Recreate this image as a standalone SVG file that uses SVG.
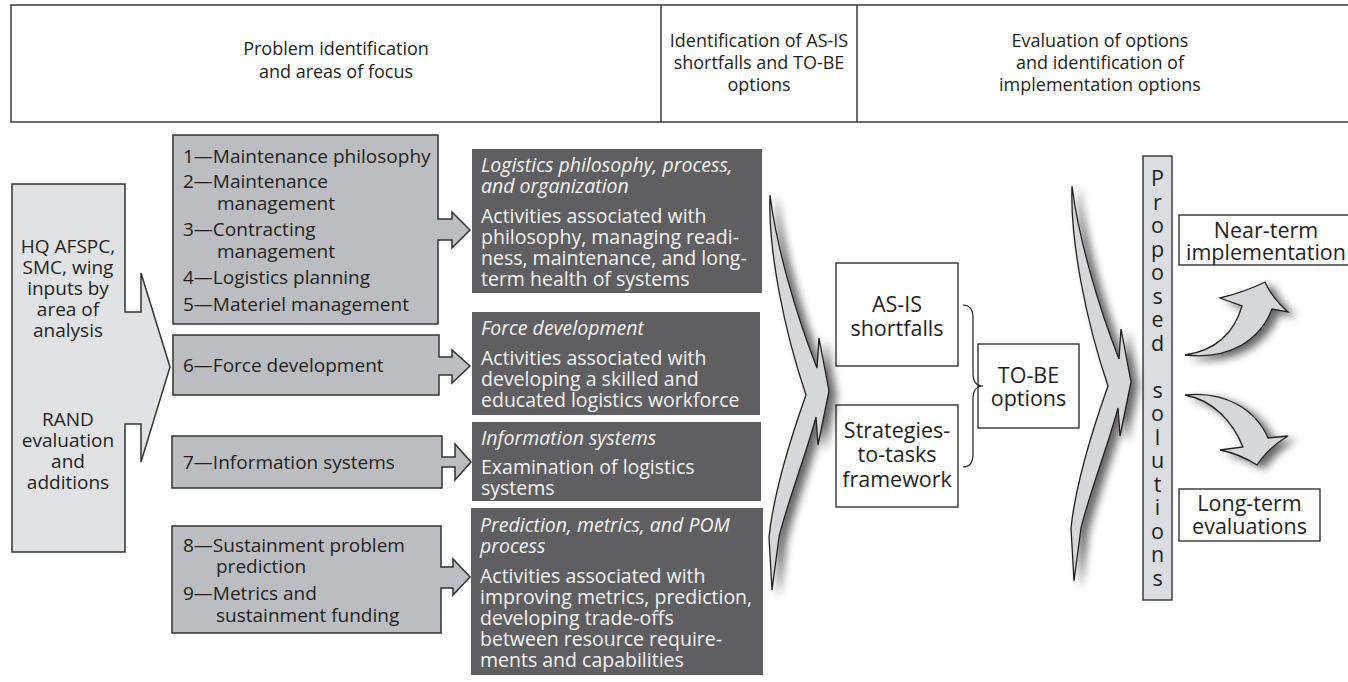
<svg xmlns="http://www.w3.org/2000/svg" width="1348" height="682" viewBox="0 0 1348 682">
<defs>
<filter id="shadow" x="-60%" y="-20%" width="220%" height="140%">
<feGaussianBlur in="SourceAlpha" stdDeviation="4.5"/>
<feOffset dx="7" dy="4"/>
<feComponentTransfer><feFuncA type="linear" slope="0.6"/></feComponentTransfer>
<feMerge><feMergeNode/><feMergeNode in="SourceGraphic"/></feMerge>
</filter>
<path id="chev" d="M770,195 C776,245 796,315 817,368 L819,338 L829,391 L818,445 L816,417 C806,455 788,500 779,537 L772,590 L769,537 C774,490 790,440 806,395 C784,330 768,250 770,195 Z"/>
</defs>
<style>
text{font-family:"Open Sans","Noto Sans","Liberation Sans",sans-serif;fill:#231f20}
.hdr{font-size:18px;text-anchor:middle}
.lt{font-size:19px}
.ltc{font-size:19px;text-anchor:middle}
.dk text{fill:#f5f5f5;font-size:19.5px}
.it{font-style:italic}
.md{font-size:21.5px;text-anchor:middle}
.frame{fill:none;stroke:#3a3a3a;stroke-width:1.5}
.gbox{fill:#bcbdc0;stroke:#333;stroke-width:1.5}
.lbox{fill:#e1e2e4;stroke:#333;stroke-width:1.5}
.dbox{fill:#5f5f61}
.wbox{fill:#fff;stroke:#333;stroke-width:1.4}
.swoosh{fill:#d6d7d9;stroke:#231f20;stroke-width:1.3;filter:url(#shadow)}
.brace{fill:none;stroke:#231f20;stroke-width:1.2}
</style>
<rect width="1348" height="682" fill="#fff"/>

<g id="header">
<path class="frame" d="M1352,5 H11 V122 H1352 M661,5 V122 M857,5 V122"/>
<text class="hdr" x="336" y="55">Problem identification</text>
<text class="hdr" x="336" y="78">and areas of focus</text>
<text class="hdr" x="759" y="47">Identification of AS-IS</text>
<text class="hdr" x="759" y="69">shortfalls and TO-BE</text>
<text class="hdr" x="759" y="91">options</text>
<text class="hdr" x="1100" y="47">Evaluation of options</text>
<text class="hdr" x="1100" y="69">and identification of</text>
<text class="hdr" x="1100" y="91">implementation options</text>
</g>

<g id="inputs">
<polygon class="lbox" points="12,184 125,184 125,312 141,312 141,273 170,367 141,462 141,424 125,424 125,552 12,552"/>
<text class="ltc" x="68" y="253">HQ AFSPC,</text>
<text class="ltc" x="68" y="274">SMC, wing</text>
<text class="ltc" x="68" y="295">inputs by</text>
<text class="ltc" x="68" y="316">area of</text>
<text class="ltc" x="68" y="337">analysis</text>
<text class="ltc" x="68" y="426">RAND</text>
<text class="ltc" x="68" y="447">evaluation</text>
<text class="ltc" x="68" y="468">and</text>
<text class="ltc" x="68" y="489">additions</text>
</g>

<g id="area1-5">
<polygon class="gbox" points="173,135 438,135 438,219 452,219 452,212 470,230 452,248 452,240 438,240 438,324 173,324"/>
<text class="lt" x="183" y="163">1—Maintenance philosophy</text>
<text class="lt" x="183" y="188">2—Maintenance</text>
<text class="lt" x="217" y="210">management</text>
<text class="lt" x="183" y="236">3—Contracting</text>
<text class="lt" x="217" y="258">management</text>
<text class="lt" x="183" y="284">4—Logistics planning</text>
<text class="lt" x="183" y="311">5—Materiel management</text>
</g>

<g id="area6">
<polygon class="gbox" points="173,335 439,335 439,357 452,357 452,350 470,366 452,383 452,375 439,375 439,395 173,395"/>
<text class="lt" x="183" y="372">6—Force development</text>
</g>

<g id="area7">
<polygon class="gbox" points="172,436 442,436 442,457 455,457 455,444 471,462 455,480 455,467 442,467 442,488 172,488"/>
<text class="lt" x="183" y="469">7—Information systems</text>
</g>

<g id="area8-9">
<polygon class="gbox" points="172,526 441,526 441,567 453,567 453,559 470,577 453,595 453,588 441,588 441,633 172,633"/>
<text class="lt" x="183" y="552">8—Sustainment problem</text>
<text class="lt" x="216" y="573">prediction</text>
<text class="lt" x="183" y="600">9—Metrics and</text>
<text class="lt" x="216" y="622">sustainment funding</text>
</g>

<g id="logistics" class="dk">
<rect class="dbox" x="472" y="149" width="290" height="144"/>
<text class="it" x="481" y="172">Logistics philosophy, process,</text>
<text class="it" x="481" y="193">and organization</text>
<text x="481" y="223">Activities associated with</text>
<text x="481" y="244">philosophy, managing readi-</text>
<text x="481" y="265">ness, maintenance, and long-</text>
<text x="481" y="286">term health of systems</text>
</g>

<g id="force" class="dk">
<rect class="dbox" x="472" y="312" width="288" height="103"/>
<text class="it" x="481" y="335">Force development</text>
<text x="481" y="365">Activities associated with</text>
<text x="481" y="386">developing a skilled and</text>
<text x="481" y="407">educated logistics workforce</text>
</g>

<g id="infosys" class="dk">
<rect class="dbox" x="472" y="422" width="289" height="79"/>
<text class="it" x="481" y="445">Information systems</text>
<text x="481" y="474">Examination of logistics</text>
<text x="481" y="495">systems</text>
</g>

<g id="prediction" class="dk">
<rect class="dbox" x="471" y="508" width="292" height="167"/>
<text class="it" x="480" y="532">Prediction, metrics, and POM</text>
<text class="it" x="480" y="553">process</text>
<text x="480" y="583">Activities associated with</text>
<text x="480" y="604">improving metrics, prediction,</text>
<text x="480" y="625">developing trade-offs</text>
<text x="480" y="646">between resource require-</text>
<text x="480" y="667">ments and capabilities</text>
</g>

<g id="asis">
<rect class="wbox" x="836" y="263" width="122" height="103"/>
<text class="md" x="897" y="312">AS-IS</text>
<text class="md" x="897" y="336">shortfalls</text>
</g>

<g id="strategies">
<rect class="wbox" x="836" y="405" width="122" height="102"/>
<text class="md" x="897" y="438">Strategies-</text>
<text class="md" x="897" y="462">to-tasks</text>
<text class="md" x="897" y="487">framework</text>
</g>

<g id="tobe">
<rect class="wbox" x="978" y="344" width="101" height="84"/>
<text class="md" x="1028.5" y="383">TO-BE</text>
<text class="md" x="1028.5" y="406">options</text>
</g>

<g id="proposed">
<rect x="1143" y="156" width="29" height="444" fill="#dcdde0" stroke="#333" stroke-width="1.4"/>
<text class="md" x="1157.5" y="186">P</text>
<text class="md" x="1157.5" y="209.5">r</text>
<text class="md" x="1157.5" y="233">o</text>
<text class="md" x="1157.5" y="256.5">p</text>
<text class="md" x="1157.5" y="280">o</text>
<text class="md" x="1157.5" y="303.5">s</text>
<text class="md" x="1157.5" y="327">e</text>
<text class="md" x="1157.5" y="350.5">d</text>
<text class="md" x="1157.5" y="397.5">s</text>
<text class="md" x="1157.5" y="421">o</text>
<text class="md" x="1157.5" y="444.5">l</text>
<text class="md" x="1157.5" y="468">u</text>
<text class="md" x="1157.5" y="491.5">t</text>
<text class="md" x="1157.5" y="515">i</text>
<text class="md" x="1157.5" y="538.5">o</text>
<text class="md" x="1157.5" y="562">n</text>
<text class="md" x="1157.5" y="585.5">s</text>
</g>

<g id="nearterm">
<rect class="wbox" x="1179" y="215" width="175" height="50"/>
<text class="md" x="1266" y="238">Near-term</text>
<text class="md" x="1266" y="260">implementation</text>
</g>

<g id="longterm">
<rect class="wbox" x="1179" y="489" width="141" height="52"/>
<text class="md" x="1249.5" y="511">Long-term</text>
<text class="md" x="1249.5" y="534">evaluations</text>
</g>

<g id="connectors">
<use href="#chev" class="swoosh"/>
<use href="#chev" class="swoosh" transform="translate(302,-9)"/>
<path class="brace" d="M963,305 Q973,305 973,318 L973,373 Q973,386 983,386 Q973,386 973,399 L973,454 Q973,467 963,467"/>
<path class="swoosh" d="M1185,355 C1212,351 1233,337 1242,306 L1220,298 Q1245,292 1265,282 Q1272,298 1288,312 L1272,309 C1260,340 1230,360 1185,355 Z"/>
<path class="swoosh" d="M1185,395 C1226,391 1256,410 1268,438 L1288,436 Q1268,448 1257,465 Q1240,454 1220,450 L1243,447 C1232,420 1212,400 1185,395 Z"/>
</g>
</svg>
